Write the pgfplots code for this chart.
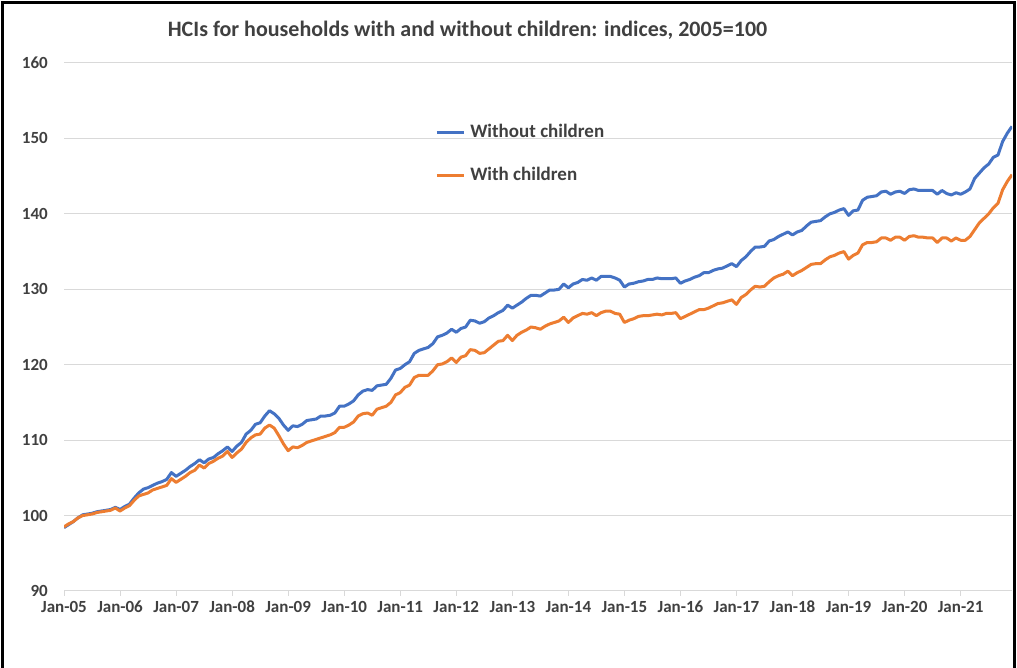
\documentclass[border=0pt]{standalone}
\usepackage{fontspec}
\setmainfont{Carlito}
\usepackage{pgfplots}
\usepackage{pgfplotstable}
\pgfplotsset{compat=1.18}
\definecolor{cblue}{HTML}{4472C4}
\definecolor{corange}{HTML}{ED7D31}
\definecolor{cgrid}{HTML}{D9D9D9}
\definecolor{ctext}{HTML}{404040}
\pgfplotstableread{
m W C
0 98.4 98.5
1 98.8 98.9
2 99.2 99.2
3 99.7 99.7
4 100.1 100.0
5 100.2 100.1
6 100.3 100.2
7 100.5 100.4
8 100.6 100.5
9 100.7 100.6
10 100.8 100.7
11 101.1 101.0
12 100.8 100.6
13 101.2 101.0
14 101.5 101.3
15 102.3 102.0
16 103.0 102.6
17 103.5 102.8
18 103.7 103.0
19 104.0 103.4
20 104.3 103.6
21 104.5 103.8
22 104.8 104.0
23 105.7 104.9
24 105.2 104.4
25 105.6 104.8
26 106.0 105.2
27 106.5 105.7
28 106.9 106.0
29 107.4 106.7
30 107.0 106.3
31 107.5 106.9
32 107.7 107.2
33 108.2 107.6
34 108.6 107.9
35 109.1 108.5
36 108.5 107.7
37 109.2 108.3
38 109.7 108.8
39 110.8 109.7
40 111.3 110.3
41 112.1 110.7
42 112.3 110.8
43 113.2 111.6
44 113.9 112.0
45 113.5 111.6
46 112.9 110.6
47 112.0 109.5
48 111.3 108.6
49 111.9 109.1
50 111.8 109.0
51 112.1 109.3
52 112.6 109.7
53 112.7 109.9
54 112.8 110.1
55 113.2 110.3
56 113.2 110.5
57 113.3 110.7
58 113.6 111.0
59 114.5 111.7
60 114.5 111.7
61 114.8 112.0
62 115.2 112.4
63 116.0 113.2
64 116.5 113.5
65 116.7 113.6
66 116.6 113.3
67 117.2 114.1
68 117.3 114.3
69 117.4 114.5
70 118.2 115.0
71 119.3 116.0
72 119.5 116.3
73 120.0 117.0
74 120.4 117.3
75 121.5 118.3
76 121.9 118.6
77 122.1 118.6
78 122.3 118.6
79 122.8 119.2
80 123.7 120.0
81 123.9 120.1
82 124.2 120.4
83 124.7 120.9
84 124.3 120.3
85 124.8 121.0
86 125.0 121.2
87 125.9 122.0
88 125.8 121.9
89 125.5 121.5
90 125.7 121.6
91 126.2 122.1
92 126.5 122.6
93 126.9 123.1
94 127.2 123.2
95 127.9 123.9
96 127.5 123.2
97 127.9 123.9
98 128.3 124.3
99 128.8 124.6
100 129.2 125.0
101 129.2 124.9
102 129.1 124.7
103 129.5 125.1
104 129.9 125.4
105 129.9 125.6
106 130.0 125.8
107 130.7 126.3
108 130.2 125.6
109 130.7 126.2
110 130.9 126.5
111 131.3 126.8
112 131.2 126.7
113 131.5 126.9
114 131.2 126.5
115 131.7 126.9
116 131.7 127.1
117 131.7 127.1
118 131.5 126.8
119 131.2 126.7
120 130.3 125.6
121 130.7 125.9
122 130.8 126.1
123 131.0 126.4
124 131.1 126.5
125 131.3 126.5
126 131.3 126.6
127 131.5 126.7
128 131.4 126.6
129 131.4 126.8
130 131.4 126.8
131 131.5 126.9
132 130.8 126.1
133 131.1 126.4
134 131.3 126.7
135 131.6 127.0
136 131.8 127.3
137 132.2 127.3
138 132.2 127.5
139 132.5 127.8
140 132.7 128.1
141 132.8 128.2
142 133.1 128.4
143 133.4 128.6
144 133.0 128.0
145 133.8 128.9
146 134.3 129.3
147 135.0 129.9
148 135.6 130.4
149 135.6 130.3
150 135.7 130.4
151 136.4 131.0
152 136.6 131.5
153 137.0 131.8
154 137.3 132.0
155 137.6 132.4
156 137.2 131.8
157 137.6 132.2
158 137.8 132.5
159 138.4 132.9
160 138.9 133.3
161 139.0 133.4
162 139.1 133.4
163 139.6 133.9
164 140.0 134.3
165 140.2 134.5
166 140.5 134.8
167 140.7 135.0
168 139.8 134.0
169 140.4 134.5
170 140.5 134.8
171 141.8 135.9
172 142.2 136.2
173 142.3 136.2
174 142.4 136.3
175 142.9 136.8
176 143.0 136.8
177 142.6 136.5
178 142.9 136.9
179 143.0 136.9
180 142.7 136.5
181 143.2 137.0
182 143.3 137.1
183 143.1 136.9
184 143.1 136.9
185 143.1 136.8
186 143.1 136.8
187 142.6 136.2
188 143.1 136.8
189 142.7 136.8
190 142.5 136.4
191 142.8 136.8
192 142.6 136.5
193 142.9 136.5
194 143.3 137.0
195 144.7 137.9
196 145.4 138.8
197 146.1 139.4
198 146.6 140.0
199 147.5 140.8
200 147.8 141.4
201 149.6 143.2
202 150.7 144.3
203 151.6 145.2
}\hci
\begin{document}
\begin{tikzpicture}[x=1pt,y=1pt]
\path[use as bounding box, fill=white] (0,0) rectangle (1017,668);
\draw[black, line width=3pt] (2.5,0) -- (2.5,665.5) -- (1014.5,665.5) -- (1014.5,0);
\node[anchor=base, font=\fontsize{22}{26}\selectfont\bfseries, text=ctext] at (467.5,631) {HCIs for households with and without children: indices, 2005=100};
\begin{axis}[
  at={(64pt,77pt)}, anchor=south west,
  scale only axis, width=948pt, height=528pt,
  xmin=0, xmax=203, ymin=90, ymax=160,
  axis line style={draw=none},
  ytick={90,100,...,160},
  xtick={0,12,...,192},
  xticklabels={Jan-05,Jan-06,Jan-07,Jan-08,Jan-09,Jan-10,Jan-11,Jan-12,Jan-13,Jan-14,Jan-15,Jan-16,Jan-17,Jan-18,Jan-19,Jan-20,Jan-21},
  xtick pos=left, tick align=outside,
  major tick length=5pt,
  major x tick style={cgrid, line width=1pt},
  major y tick style={draw=none},
  ymajorgrids, grid style={cgrid, line width=1pt},
  /pgf/number format/assume math mode=true,
  tick label style={font=\fontsize{17}{20}\selectfont\bfseries, text=ctext},
  xticklabel style={anchor=north, inner sep=0pt, yshift=-5pt},
  yticklabel style={anchor=east, inner sep=0pt, xshift=-11pt},
  legend cell align=left,
  legend image code/.code={\draw[#1] (0pt,0pt) -- (27pt,0pt);},
  legend style={draw=none, fill=none, inner sep=0pt,
    at={(axis description cs:0.3914,0.8267)}, anchor=west,
    font=\fontsize{19}{22}\selectfont\bfseries, text=ctext,
    row sep=24pt,
    nodes={inner sep=0pt, text height=14pt, text depth=5pt},
    /tikz/every odd column/.append style={column sep=5pt}},
]
\addplot[cblue, line width=3pt, line join=round] table[x=m, y=W] {\hci};
\addlegendentry{Without children}
\addplot[corange, line width=3pt, line join=round] table[x=m, y=C] {\hci};
\addlegendentry{With children}
\end{axis}
\end{tikzpicture}
\end{document}
